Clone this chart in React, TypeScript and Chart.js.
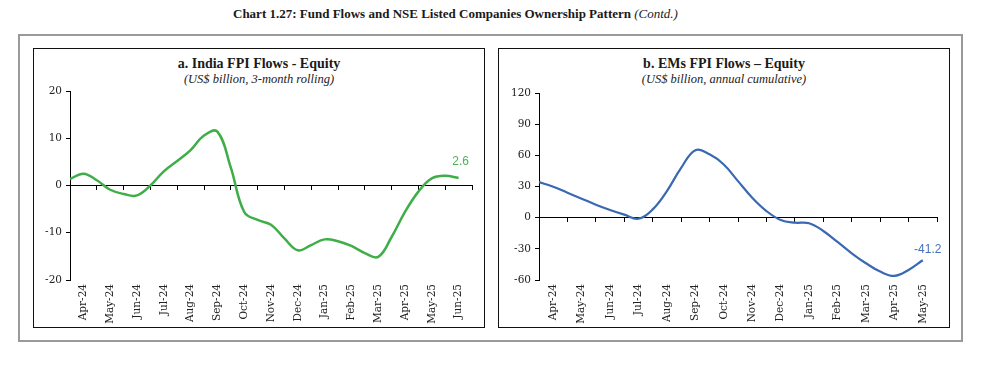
import React, { useEffect, useRef } from 'react';
import { Chart, registerables } from 'chart.js';

Chart.register(...registerables);

// ---- Data ----
const mainTitle = 'Chart 1.27: Fund Flows and NSE Listed Companies Ownership Pattern';
const mainTitleNote = '(Contd.)';

// Panel a
const indiaTitle = 'a. India FPI Flows - Equity';
const indiaSubtitle = '(US$ billion, 3-month rolling)';
const indiaMonths = ['Apr-24', 'May-24', 'Jun-24', 'Jul-24', 'Aug-24', 'Sep-24', 'Oct-24', 'Nov-24', 'Dec-24', 'Jan-25', 'Feb-25', 'Mar-25', 'Apr-25', 'May-25', 'Jun-25'];
// half-month readings, starting half a month before Apr-24
const indiaFlows = [1.35, 2.5, 1.1, -0.9, -1.8, -2.1, 0, 3.0, 5.2, 7.5, 10.6, 11.4, 3.8, -5.6, -7.3, -8.3, -11.2, -13.7, -12.6, -11.4, -11.8, -12.8, -14.3, -15.1, -10.9, -5.6, -1.3, 1.5, 2.05, 1.6];
const indiaYTicks = [-20, -10, 0, 10, 20];
const indiaLatest = '2.6';

// Panel b
const emTitle = 'b. EMs FPI Flows \u2013 Equity';
const emSubtitle = '(US$ billion, annual cumulative)';
const emMonths = ['Apr-24', 'May-24', 'Jun-24', 'Jul-24', 'Aug-24', 'Sep-24', 'Oct-24', 'Nov-24', 'Dec-24', 'Jan-25', 'Feb-25', 'Mar-25', 'Apr-25', 'May-25'];
const emFlows = [34.3, 29.8, 24.0, 18.3, 12.5, 7.4, 2.9, -1.0, 8.0, 25.6, 48, 65, 61, 51.2, 35.2, 19.2, 6.4, -2.2, -4.8, -5.4, -12.8, -23.4, -34.3, -43.9, -51.9, -56, -50.3, -41.0];
const emYTicks = [-60, -30, 0, 30, 60, 90, 120];
const emLatest = '-41.2';

const STEP = 0.5; // readings every half month
const toPoints = (vals: number[]) => vals.map((v, i) => ({ x: -0.5 + i * STEP, y: v }));

const TICK_FONT = { family: '"DejaVu Serif", serif', size: 10.5 };

const endLabel = {
  id: 'endLabel',
  afterDatasetsDraw(chart: any, _args: any, opts: any) {
    const meta = chart.getDatasetMeta(0);
    const pt = meta.data[meta.data.length - 1];
    if (!pt) return;
    const ctx = chart.ctx;
    ctx.save();
    ctx.font = opts.font;
    ctx.fillStyle = opts.color;
    ctx.textAlign = 'center';
    ctx.textBaseline = 'middle';
    ctx.fillText(opts.text, pt.x + opts.dx, pt.y + opts.dy);
    ctx.restore();
  },
};

function makeConfig(p: {
  labels: string[];
  values: number[];
  ticks: number[];
  color: string;
  width: number;
  yWidth: number;
  padTop: number;
  padRight: number;
  text: string;
  textColor: string;
  dx: number;
  dy: number;
}): any {
  const n = p.labels.length;
  const min = p.ticks[0];
  const max = p.ticks[p.ticks.length - 1];
  const step = p.ticks[1] - p.ticks[0];
  return {
    type: 'line',
    data: {
      labels: p.labels,
      datasets: [
        {
          data: toPoints(p.values),
          xAxisID: 'xv',
          yAxisID: 'y',
          borderColor: p.color,
          borderWidth: p.width,
          pointRadius: 0,
          tension: 0.4,
          fill: false,
        },
      ],
    },
    plugins: [endLabel],
    options: {
      animation: false,
      responsive: false,
      maintainAspectRatio: false,
      layout: { padding: { top: p.padTop, right: p.padRight, left: 0, bottom: 0 } },
      plugins: {
        legend: { display: false },
        tooltip: { enabled: false },
        title: { display: false },
        endLabel: { text: p.text, color: p.textColor, font: '12px "Liberation Sans", sans-serif', dx: p.dx, dy: p.dy },
      },
      scales: {
        xv: {
          type: 'linear',
          display: false,
          min: -0.5,
          max: n - 0.5,
        },
        x: {
          type: 'category',
          position: 'bottom',
          offset: true,
          grid: { display: false, drawTicks: false },
          border: { display: false },
          ticks: {
            autoSkip: false,
            minRotation: 90,
            maxRotation: 90,
            padding: 4,
            color: '#222',
            font: TICK_FONT,
          },
          afterFit: (s: any) => { s.height = 47; },
        },
        x0: {
          type: 'category',
          position: { y: 0 },
          offset: true,
          grid: {
            display: true,
            offset: true,
            drawOnChartArea: false,
            drawTicks: true,
            tickLength: 4,
            color: '#000',
            lineWidth: 1,
          },
          border: { display: true, color: '#000', width: 1 },
          ticks: { display: false },
        },
        y: {
          type: 'linear',
          position: 'left',
          min,
          max,
          grid: {
            display: true,
            drawOnChartArea: false,
            drawTicks: true,
            tickLength: 4,
            color: '#000',
            lineWidth: 1,
          },
          border: { display: true, color: '#000', width: 1 },
          ticks: {
            stepSize: step,
            padding: 4,
            color: '#222',
            font: TICK_FONT,
          },
          afterFit: (s: any) => { s.width = p.yWidth; },
        },
      },
    },
  };
}

function ChartCanvas({ config, style }: { config: any; style: React.CSSProperties }) {
  const ref = useRef<HTMLCanvasElement>(null);
  useEffect(() => {
    if (!ref.current) return;
    const chart = new Chart(ref.current, config);
    return () => chart.destroy();
  }, [config]);
  return <canvas ref={ref} width={449} height={278} style={{ position: 'absolute', width: 449, height: 278, ...style }} />;
}

const indiaConfig = makeConfig({
  labels: indiaMonths,
  values: indiaFlows,
  ticks: indiaYTicks,
  color: '#3fae49',
  width: 2.5,
  yWidth: 36,
  padTop: 42,
  padRight: 11,
  text: indiaLatest,
  textColor: '#4fb257',
  dx: 2,
  dy: -16,
});

const emConfig = makeConfig({
  labels: emMonths,
  values: emFlows,
  ticks: emYTicks,
  color: '#3a68b2',
  width: 2.2,
  yWidth: 40,
  padTop: 44,
  padRight: 11,
  text: emLatest,
  textColor: '#4572bf',
  dx: 5,
  dy: -11,
});

const panelTitle: React.CSSProperties = {
  position: 'absolute',
  width: 452,
  textAlign: 'center',
  fontFamily: '"Liberation Serif", serif',
  fontWeight: 'bold',
  fontSize: 14,
  lineHeight: '16px',
  color: '#1a1a1a',
  whiteSpace: 'nowrap',
};
const panelSub: React.CSSProperties = {
  position: 'absolute',
  width: 452,
  textAlign: 'center',
  fontFamily: '"Liberation Serif", serif',
  fontStyle: 'italic',
  fontSize: 12.5,
  lineHeight: '15px',
  color: '#222',
  whiteSpace: 'nowrap',
};

export default function App() {
  return (
    <div style={{ position: 'fixed', left: 0, top: 0, width: 984, height: 370, background: '#fff', overflow: 'hidden' }}>
      <div
        style={{
          position: 'absolute',
          left: 233,
          top: 5,
          fontFamily: '"Liberation Serif", serif',
          fontSize: 13,
          lineHeight: '18px',
          color: '#1a1a1a',
          whiteSpace: 'nowrap',
        }}
      >
        <span style={{ fontWeight: 'bold' }}>{mainTitle}</span> <span style={{ fontStyle: 'italic' }}>{mainTitleNote}</span>
      </div>
      <div style={{ position: 'absolute', left: 18, top: 34, width: 945, height: 308, border: '2px solid #9a9a9a', boxSizing: 'border-box' }} />
      <div style={{ position: 'absolute', left: 33, top: 48, width: 452, height: 280, border: '1px solid #111', boxSizing: 'border-box' }} />
      <div style={{ position: 'absolute', left: 498, top: 48, width: 452, height: 280, border: '1px solid #111', boxSizing: 'border-box' }} />
      <div style={{ ...panelTitle, left: 33, top: 56 }}>{indiaTitle}</div>
      <div style={{ ...panelSub, left: 33, top: 72 }}>{indiaSubtitle}</div>
      <div style={{ ...panelTitle, left: 498, top: 56 }}>{emTitle}</div>
      <div style={{ ...panelSub, left: 498, top: 72 }}>{emSubtitle}</div>
      <ChartCanvas config={indiaConfig} style={{ left: 34, top: 49 }} />
      <ChartCanvas config={emConfig} style={{ left: 499, top: 49 }} />
    </div>
  );
}
